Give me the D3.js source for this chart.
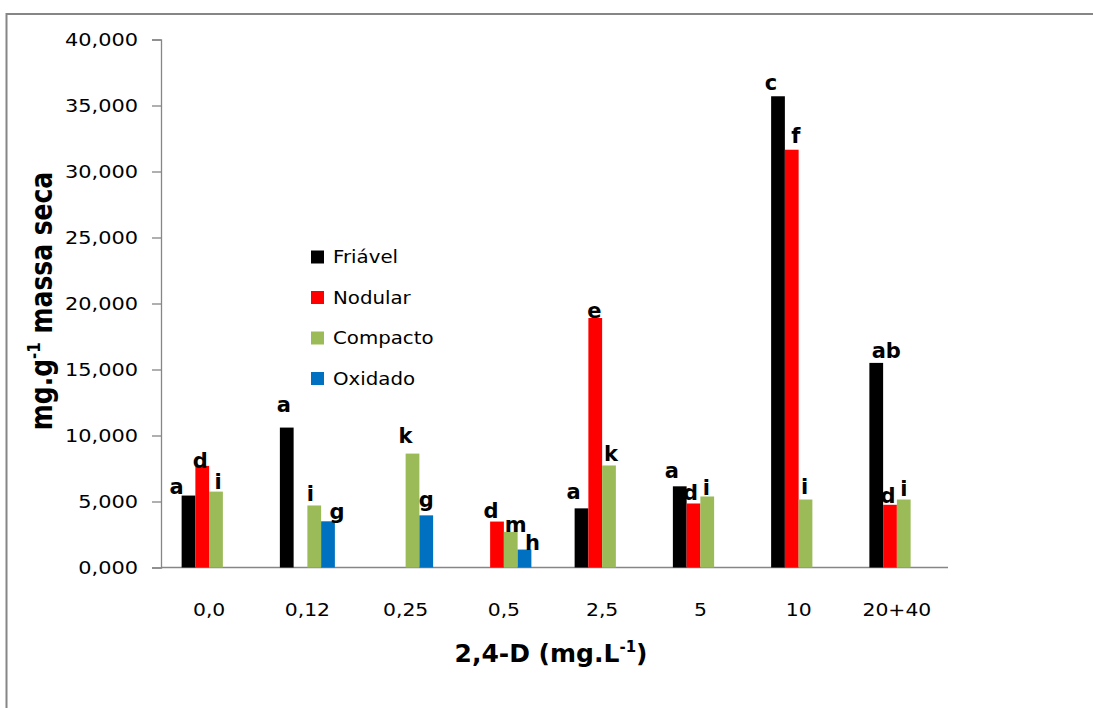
<!DOCTYPE html>
<html>
<head>
<meta charset="utf-8">
<script src="https://cdn.jsdelivr.net/npm/d3@7"></script>
<style>
  html, body { margin: 0; padding: 0; background: #fff; }
  svg { display: block; }
</style>
</head>
<body>
<script>
// ---- data ----
const categories = ["0,0", "0,12", "0,25", "0,5", "2,5", "5", "10", "20+40"];
const seriesNames = ["Friável", "Nodular", "Compacto", "Oxidado"];
const seriesColors = ["#000000", "#FF0000", "#9BBB59", "#0070C0"];
const friavel  = [5.45, 10.6, 0, 0, 4.48, 6.15, 35.7, 15.5];
const nodular  = [7.7, 0, 0, 3.48, 18.9, 4.85, 31.65, 4.75];
const compacto = [5.75, 4.7, 8.63, 2.7, 7.73, 5.38, 5.15, 5.15];
const oxidado  = [0, 3.5, 3.95, 1.36, 0, 0, 0, 0];
const friavelLetters  = ["a", "a", "", "", "a", "a", "c", "ab"];
const nodularLetters  = ["d", "", "", "d", "e", "d", "f", "d"];
const compactoLetters = ["i", "i", "k", "m", "k", "i", "i", "i"];
const oxidadoLetters  = ["", "g", "g", "h", "", "", "", ""];
const yTicks = [0, 5, 10, 15, 20, 25, 30, 35, 40];
const yTitle = "mg.g";
const yTitleSup = "-1";
const yTitleRest = " massa seca";
const xTitle = "2,4-D (mg.L";
const xTitleSup = "-1";
const xTitleEnd = ")";

// label nudges relative to bar top-centre (styling only)
const nudges = [
  [[-12,-2],[-3,-16],null,null,[-8,-9],[-8,-8],[-7,-6],[10,-5]],
  [[-2,2],null,null,[-6,-4],[-1,0],[-3,-3],[4,-7],[-2,-2]],
  [[2,-3],[-4,-4],[-7,-11],[5,0],[2,-4],[-1,-1],[-1,-6],[0,-4]],
  [null,[9,-2],[0,-8],[8,0],null,null,null,null]
];

const seriesValues = [friavel, nodular, compacto, oxidado];
const seriesLetters = [friavelLetters, nodularLetters, compactoLetters, oxidadoLetters];

const W = 1093, H = 708;
const svg = d3.select("body").append("svg").attr("width", W).attr("height", H);

// outer border
svg.append("rect").attr("x", 6.5).attr("y", 14).attr("width", W + 10).attr("height", H + 10)
  .attr("fill", "none").attr("stroke", "#868686").attr("stroke-width", 2);

const x = d3.scaleBand().domain(categories).range([160, 946]).paddingInner(0).paddingOuter(0);
const groupW = 55;
const x1 = d3.scaleBand().domain(seriesNames).range([0, groupW]);
const y = d3.scaleLinear().domain([0, 40]).range([567.5, 39.5]);

const axisColor = "#868686";
const tickFont = "'DejaVu Sans', sans-serif";

// y axis
const yAxis = svg.append("g").attr("transform", "translate(161,0)")
  .call(d3.axisLeft(y).tickValues(yTicks).tickSize(9).tickPadding(13)
    .tickFormat(d => d3.format(".3f")(d).replace(".", ",")));
yAxis.select(".domain").attr("stroke", axisColor).attr("stroke-width", 1.3);
yAxis.selectAll(".tick line").attr("stroke", axisColor).attr("stroke-width", 1.3);
yAxis.selectAll("text").attr("font-family", tickFont).attr("font-size", 18.5).attr("fill", "#000")
  .attr("x", 0).attr("transform", "translate(-23,0) scale(1.13,1)");

// x axis
svg.append("line").attr("x1", 161).attr("x2", 948).attr("y1", y(0)).attr("y2", y(0))
  .attr("stroke", axisColor).attr("stroke-width", 1.5);
const xAxis = svg.append("g").attr("transform", `translate(0,${y(0)})`)
  .call(d3.axisBottom(x).tickSize(0).tickPadding(0));
xAxis.select(".domain").remove();
xAxis.selectAll("text").attr("font-family", tickFont).attr("font-size", 18.5).attr("fill", "#000")
  .attr("dy", 0).attr("y", 0).attr("transform", "translate(0,48.5) scale(1.1,1)");

// bars
const groups = svg.append("g").selectAll("g").data(categories).join("g")
  .attr("transform", d => `translate(${x(d) + (x.bandwidth() - groupW) / 2},0)`);

seriesNames.forEach((s, si) => {
  groups.filter((d, i) => seriesValues[si][i] > 0)
    .append("rect")
    .attr("x", x1(s))
    .attr("width", x1.bandwidth())
    .attr("y", function() { const i = categories.indexOf(d3.select(this.parentNode).datum()); return y(seriesValues[si][i]); })
    .attr("height", function() { const i = categories.indexOf(d3.select(this.parentNode).datum()); return y(0) - y(seriesValues[si][i]); })
    .attr("fill", seriesColors[si]);
});

// letters
const lbl = svg.append("g");
seriesNames.forEach((s, si) => {
  categories.forEach((c, i) => {
    const t = seriesLetters[si][i];
    if (!t) return;
    const n = nudges[si][i] || [0, -4];
    const cx = x(c) + (x.bandwidth() - groupW) / 2 + x1(s) + x1.bandwidth() / 2;
    lbl.append("text")
      .attr("x", cx + n[0]).attr("y", y(seriesValues[si][i]) + n[1])
      .attr("text-anchor", "middle")
      .attr("font-family", "'DejaVu Sans', sans-serif").attr("font-weight", "bold")
      .attr("font-size", 21).attr("fill", "#000")
      .text(t);
  });
});

// legend
const leg = svg.append("g");
seriesNames.forEach((s, si) => {
  const cy = 257 + si * 40.5;
  leg.append("rect").attr("x", 311).attr("y", cy - 6.5).attr("width", 13).attr("height", 13).attr("fill", seriesColors[si]);
  leg.append("text").attr("transform", `translate(333,${cy}) scale(1.1,1)`).attr("dy", "0.36em")
    .attr("font-family", tickFont).attr("font-size", 18).attr("fill", "#000").text(s);
});

// x title
const xt = svg.append("text").attr("x", 551).attr("y", 662).attr("text-anchor", "middle")
  .attr("font-family", "'DejaVu Sans', sans-serif").attr("font-weight", "bold").attr("font-size", 25).attr("fill", "#000");
xt.append("tspan").text(xTitle);
xt.append("tspan").attr("font-size", 15).attr("dy", -10).text(xTitleSup);
xt.append("tspan").attr("dy", 10).text(xTitleEnd);

// y title
const yt = svg.append("text").attr("transform", "translate(52,301) scale(1.2,1) rotate(-90)")
  .attr("text-anchor", "middle")
  .attr("font-family", "'DejaVu Sans', sans-serif").attr("font-weight", "bold").attr("font-size", 25).attr("fill", "#000");
yt.append("tspan").text(yTitle);
yt.append("tspan").attr("font-size", 15).attr("dy", -10).text(yTitleSup);
yt.append("tspan").attr("dy", 10).text(yTitleRest);
</script>
</body>
</html>
